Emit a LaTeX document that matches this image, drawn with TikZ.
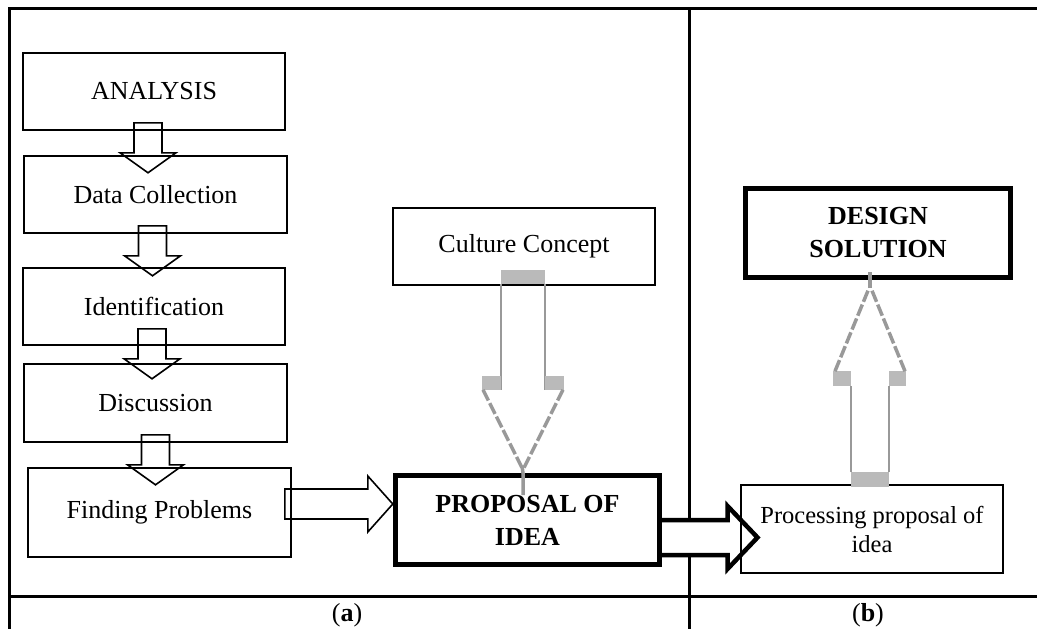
\documentclass[tikz,border=0pt]{standalone}
\usepackage{fontspec}
\setmainfont{Liberation Serif}
\usetikzlibrary{calc,backgrounds}

\begin{document}
\begin{tikzpicture}[x=1pt,y=-1pt,
                    box/.style={rectangle,draw,line width=1.6pt,inner sep=0pt,align=center,
                                font=\fontsize{26}{31}\selectfont},
                    bigbox/.style={box,line width=5pt,font=\fontsize{26}{33}\selectfont\bfseries},
                    blk/.style={draw,line width=1.6pt,fill=white,line join=miter},
                    hollow/.style={draw=black!40,line width=1.5pt},
                    greycap/.style={fill=black!27},
                    slant/.style={draw=black!40,line width=3.5pt,dash pattern=on 12pt off 3pt}]

  \useasboundingbox (0,0) rectangle (1037,629);

  \node[box,minimum width=262,minimum height=77] (ANA) at (154,91.5)    {ANALYSIS};
  \node[box,minimum width=263,minimum height=77] (DAT) at (155.5,194.5) {Data Collection};
  \node[box,minimum width=262,minimum height=77] (IDE) at (154,306.5)   {Identification};
  \node[box,minimum width=263,minimum height=78] (DIS) at (155.5,403)   {Discussion};
  \node[box,minimum width=263,minimum height=89] (FIN) at (159.5,512.5) {Finding Problems};

  \node[box,minimum width=262,minimum height=77] (CUL) at (524,246.5)   {Culture Concept};
  \node[bigbox,minimum width=264,minimum height=89] (PRO) at (527.5,520) {PROPOSAL OF\\IDEA};

  \node[bigbox,minimum width=265,minimum height=89] (DES) at (878,233)   {DESIGN\\SOLUTION};
  \node[box,minimum width=262,minimum height=88,font=\fontsize{24.5}{29}\selectfont]
       (PRC) at (872,529) {Processing proposal of\\idea};

  \node (LA) at (347,615) {\fontsize{26}{31}\selectfont(\textbf{a})};
  \node (LB) at (868,615) {\fontsize{26}{31}\selectfont(\textbf{b})};

  \begin{pgfonlayer}{background}
    % frame
    \draw[line width=3pt] (1037,8) -- (9,8) -- (9,629);
    \draw[line width=3pt] (9,596) -- (1037,596);
    \draw[line width=3pt] (689,8) -- (689,629);

    % block arrows of the left column
    \foreach \a/\dx/\dy in {ANA/-6/-8, DAT/-3/-8, IDE/-2/-17, DIS/0/-8}
      \draw[blk] ($(\a.south)+(\dx,\dy)$) ++(-14,0) -- ++(0,30) -- ++(-14,0)
                 -- ++(28,20) -- ++(28,-20) -- ++(-14,0) -- ++(0,-30) -- cycle;

    \draw[blk] ($(FIN.east)+(-7,-8.5)$) ++(0,-15) -- ++(83,0) -- ++(0,-13)
               -- ++(25,28) -- ++(-25,28) -- ++(0,-13) -- ++(-83,0) -- cycle;

    \draw[blk,line width=4.5pt] ($(PRO.east)+(-2.5,17.5)$) ++(0,-17.5) -- ++(68,0) -- ++(0,-14)
               -- ++(30,31.5) -- ++(-30,31.5) -- ++(0,-14) -- ++(-68,0) -- cycle;
  \end{pgfonlayer}

  % grey arrow into the proposal
  \coordinate (c1) at ($(CUL.south)+(-1,0)$);
  \fill[greycap] ($(c1)+(-22,-16)$) rectangle ($(c1)+(22,-2)$);
  \draw[hollow] ($(c1)+(-22,-2)$) -- ++(0,106);
  \draw[hollow] ($(c1)+(22,-2)$) -- ++(0,106);
  \fill[greycap] ($(c1)+(-41,90)$) rectangle ($(c1)+(-22,104)$);
  \fill[greycap] ($(c1)+(22,90)$) rectangle ($(c1)+(41,104)$);
  \draw[slant] ($(c1)+(-40,104)$) -- ($(c1)+(-1,182)$);
  \draw[slant] ($(c1)+(40,104)$) -- ($(c1)+(1,182)$);
  \draw[draw=black!40,line width=3.5pt] ($(c1)+(-1,180)$) -- (PRO.north -| c1) -- ++(0,22);

  % grey arrow up to the design solution
  \coordinate (c2) at ($(PRC.north)+(-2,0)$);
  \fill[greycap] ($(c2)+(-19,-12)$) rectangle ($(c2)+(19,3)$);
  \draw[hollow] ($(c2)+(-19,-12)$) -- ++(0,-86);
  \draw[hollow] ($(c2)+(19,-12)$) -- ++(0,-86);
  \fill[greycap] ($(c2)+(-37,-113)$) rectangle ($(c2)+(-19,-98)$);
  \fill[greycap] ($(c2)+(19,-113)$) rectangle ($(c2)+(36,-98)$);
  \draw[slant] ($(c2)+(-35,-113)$) -- ($(c2)+(-1,-196)$);
  \draw[slant] ($(c2)+(35,-113)$) -- ($(c2)+(1,-196)$);
  \draw[draw=black!40,line width=3.5pt] ($(c2)+(0,-196)$) -- (DES.south -| c2) -- ++(0,-8);
\end{tikzpicture}
\end{document}
